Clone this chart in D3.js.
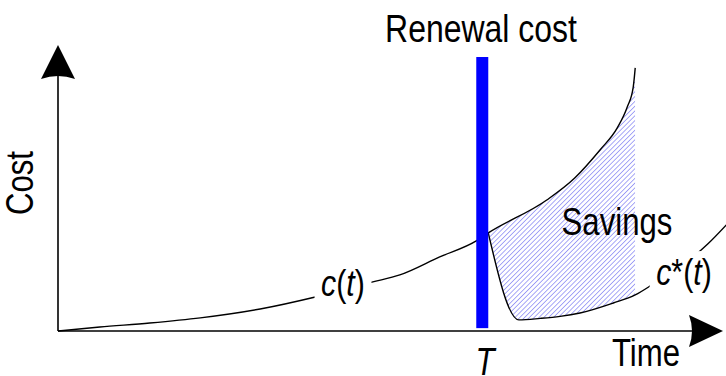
<!DOCTYPE html>
<html>
<head>
<meta charset="utf-8">
<script src="https://cdn.jsdelivr.net/npm/d3@7"></script>
<style>
  body { margin: 0; background: #fff; }
  svg text { font-family: "Liberation Sans", Arial, sans-serif; fill: #000; }
</style>
</head>
<body>
<div id="chart"></div>
<script>
// values (time, cost), arbitrary units 0..10
const costTime  = [0, 0.63, 1.38, 2.14, 3.04, 3.87, 4.72, 5.14, 5.74, 6.29, 6.47, 7.35, 7.77, 8.15, 8.41, 8.56, 8.65, 8.68];
const costValue = [0, 0.14, 0.28, 0.46, 0.77, 1.19, 1.71, 1.96, 2.59, 3.15, 3.43, 4.58, 5.35, 6.33, 7.10, 7.83, 8.53, 9.20];

const newTime  = [6.47, 6.93, 7.25, 7.55, 7.85, 8.35, 8.68, 8.93, 9.77, 10.05];
const newValue = [3.43, 0.39, 0.44, 0.51, 0.63, 0.98, 1.26, 1.61, 3.04, 3.71];

const renewalTime = 6.38;
const renewalTop = 9.58;
const savingsEnd = 8.68;

const labels = { title: "Renewal cost", yTitle: "Cost", xTitle: "Time", savings: "Savings", T: "T" };

let width = 726;
let height = 376;
const narrow = 0.82; // the reference uses a condensed sans

const svg = d3.select("#chart").append("svg")
  .attr("width", width)
  .attr("height", height);

let x = d3.scaleLinear().domain([0, 10]).range([58, 723]);
let y = d3.scaleLinear().domain([0, 10]).range([331, 45]);

const cData = costTime.map((t, i) => ({ t: t, v: costValue[i] }));
const sData = newTime.map((t, i) => ({ t: t, v: newValue[i] }));

const defs = svg.append("defs");

const pat = defs.append("pattern")
  .attr("id", "hatch")
  .attr("patternUnits", "userSpaceOnUse")
  .attr("width", 3.4)
  .attr("height", 3.4)
  .attr("patternTransform", "rotate(45)");
pat.append("rect").attr("width", 3.4).attr("height", 3.4).attr("fill", "#fff");
pat.append("line")
  .attr("x1", 0).attr("y1", 0).attr("x2", 0).attr("y2", 3.4)
  .attr("stroke", "#7474f2")
  .attr("stroke-width", 1.25);

// clip: under c(t)
const below = d3.area()
  .curve(d3.curveMonotoneX)
  .x(d => x(d.t))
  .y0(y(0))
  .y1(d => y(d.v));
defs.append("clipPath").attr("id", "belowC")
  .append("path").attr("d", below(cData));

// clip: above c*(t)
const above = d3.area()
  .curve(d3.curveMonotoneX)
  .x(d => x(d.t))
  .y0(0)
  .y1(d => y(d.v));
defs.append("clipPath").attr("id", "aboveS")
  .append("path").attr("d", above(sData));

svg.append("g")
  .attr("clip-path", "url(#belowC)")
  .append("rect")
  .attr("clip-path", "url(#aboveS)")
  .attr("x", x(costTime[10]))
  .attr("y", y(10))
  .attr("width", x(savingsEnd) - x(costTime[10]))
  .attr("height", y(0) - y(10))
  .attr("fill", "url(#hatch)");

const line = d3.line()
  .curve(d3.curveMonotoneX)
  .x(d => x(d.t))
  .y(d => y(d.v));

svg.append("path")
  .attr("d", line(cData))
  .attr("fill", "none")
  .attr("stroke", "#000")
  .attr("stroke-width", 1.4);

svg.append("path")
  .attr("d", line(sData))
  .attr("fill", "none")
  .attr("stroke", "#000")
  .attr("stroke-width", 1.4);

// axes with arrow heads
svg.append("line")
  .attr("x1", x(0)).attr("y1", y(0))
  .attr("x2", x(0)).attr("y2", y(10) + 30)
  .attr("stroke", "#000").attr("stroke-width", 1.6);
svg.append("line")
  .attr("x1", x(0)).attr("y1", y(0))
  .attr("x2", x(10) - 30).attr("y2", y(0))
  .attr("stroke", "#000").attr("stroke-width", 1.6);

const ax = x(0), ay = y(10);
svg.append("path")
  .attr("d", `M${ax},${ay} L${ax + 17},${ay + 34} Q${ax},${ay + 28} ${ax - 17},${ay + 34} Z`)
  .attr("fill", "#000");
const bx = x(10), by = y(0);
svg.append("path")
  .attr("d", `M${bx},${by} L${bx - 34},${by + 16} Q${bx - 28},${by} ${bx - 34},${by - 16} Z`)
  .attr("fill", "#000");

// renewal bar
svg.append("rect")
  .attr("x", x(renewalTime) - 6)
  .attr("y", y(renewalTop))
  .attr("width", 12)
  .attr("height", y(0.1) - y(renewalTop))
  .attr("fill", "#0000ff");

// labels
const fs = 38;
function label(tx, ty, txt, opts) {
  opts = opts || {};
  return svg.append("text")
    .attr("transform", `translate(${tx},${ty})` + (opts.rotate ? ` rotate(${opts.rotate})` : "") + ` scale(${narrow},1)`)
    .attr("text-anchor", opts.anchor || "middle")
    .style("font-size", (opts.size || fs) + "px")
    .style("font-style", opts.italic ? "italic" : "normal")
    .text(txt);
}

label(481, 42, labels.title, { size: 39 });
label(33, 183, labels.yTitle, { rotate: -90 });
label(646, 366, labels.xTitle);
label(485, 375, labels.T, { italic: true });
label(617, 235, labels.savings);

function curveLabel(cx, cy, star) {
  const g = svg.append("g").attr("transform", `translate(${cx},${cy}) scale(${narrow},1)`);
  const bg = g.append("rect").attr("fill", "#fff");
  const t = g.append("text")
    .attr("text-anchor", "middle")
    .style("font-size", "37px");
  t.append("tspan").style("font-style", "italic").text("c");
  if (star) t.append("tspan").text("*");
  t.append("tspan").text("(");
  t.append("tspan").style("font-style", "italic").text("t");
  t.append("tspan").text(")");
  const b = t.node().getBBox();
  bg.attr("x", b.x - 8).attr("y", b.y)
    .attr("width", b.width + 16).attr("height", b.height);
}
curveLabel(343, 296, false);
curveLabel(684, 285, true);
</script>
</body>
</html>
